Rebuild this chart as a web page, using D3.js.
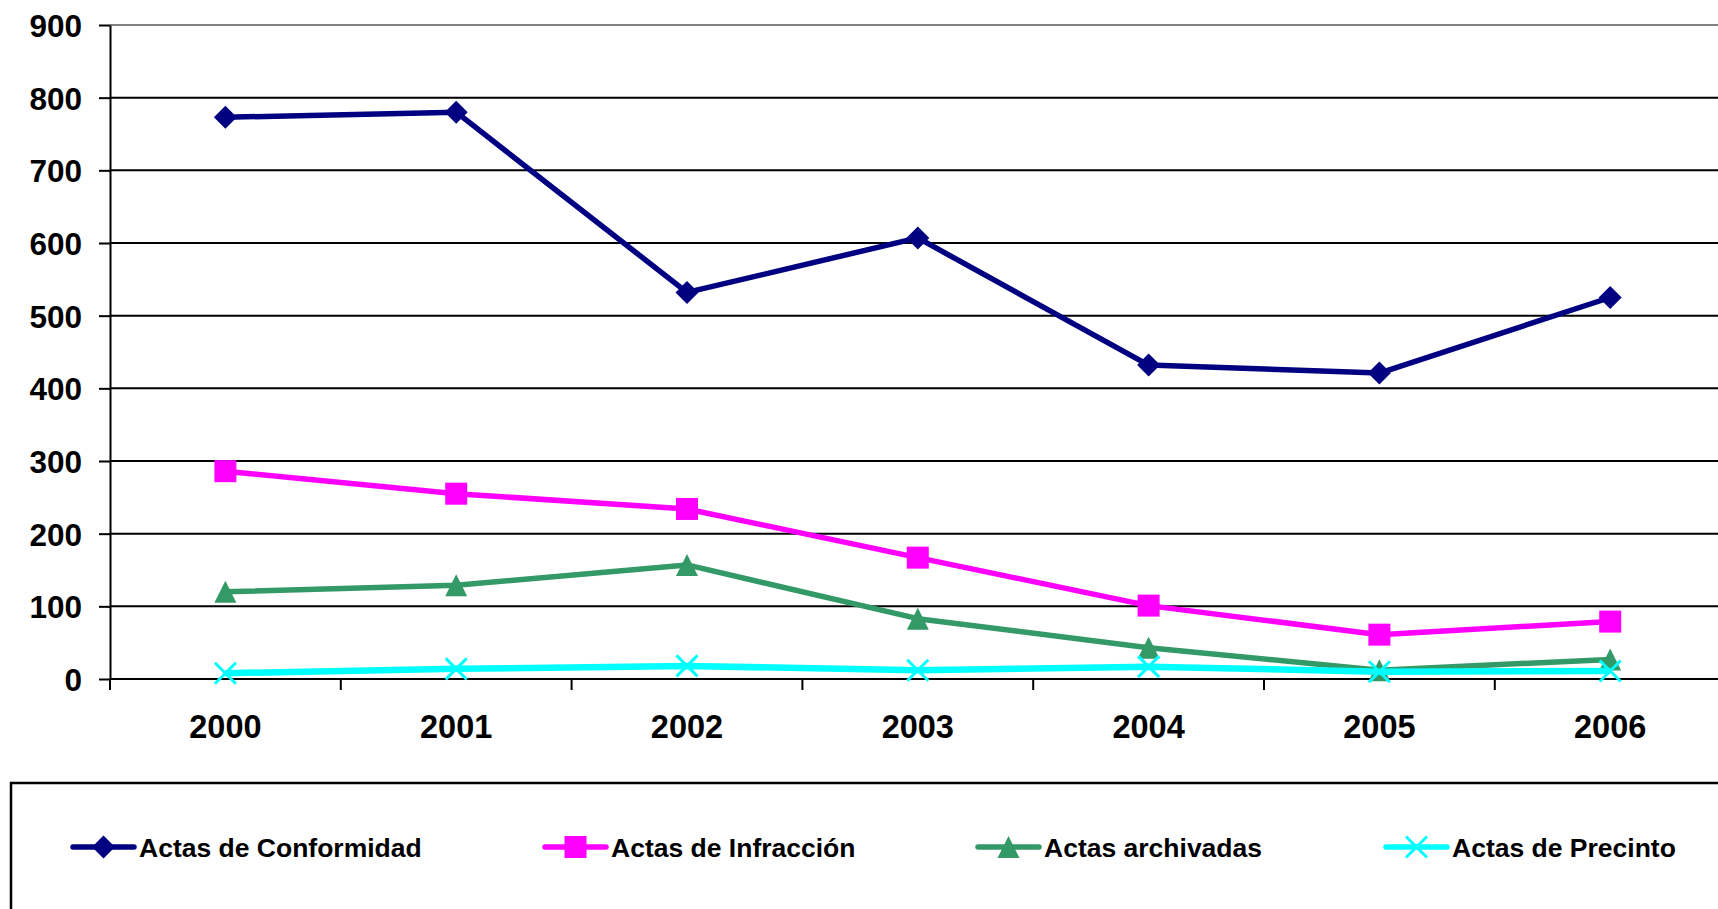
<!DOCTYPE html>
<html>
<head>
<meta charset="utf-8">
<script src="https://cdn.jsdelivr.net/npm/d3@7"></script>
<style>
html,body{margin:0;padding:0;background:#fff;overflow:hidden;}
svg{display:block;font-family:"Liberation Sans",Arial,sans-serif;font-weight:bold;}
</style>
</head>
<body>
<svg id="chart" width="1718" height="909"></svg>
<script>
// ---- data ----
const years = ["2000","2001","2002","2003","2004","2005","2006"];
const conformidad = [773, 780, 532, 607, 432, 421, 525];
const infraccion  = [286, 255, 234, 167, 101, 61, 79];
const archivadas  = [120, 129, 157, 83, 43, 12, 27];
const precinto    = [8, 14, 18, 12, 17, 10, 11];
const seriesNames = ["Actas de Conformidad","Actas de Infracción","Actas archivadas","Actas de Precinto"];
const yTicks = [0,100,200,300,400,500,600,700,800,900];

// ---- styles ----
const colors = ["#000080","#FF00FF","#339966","#00FFFF"];
const markers = ["diamond","square","triangle","x"];
const series = [conformidad, infraccion, archivadas, precinto];

const svg = d3.select("#chart");
svg.append("rect").attr("width",1718).attr("height",909).attr("fill","#fff");

const plotLeft = 110, plotTop = 25, plotBottom = 679, band = 230.8;
const x = d3.scaleBand().domain(years).range([plotLeft, plotLeft + band*years.length]).padding(0);
const y = d3.scaleLinear().domain([0,900]).range([plotBottom, plotTop]);

// gridlines
svg.append("g").selectAll("line").data(yTicks.filter(d=>d>0)).join("line")
  .attr("x1", plotLeft).attr("x2", plotLeft + band*years.length)
  .attr("y1", d=>y(d)).attr("y2", d=>y(d))
  .attr("stroke", d=> d===900 ? "#808080" : "#000").attr("stroke-width", 2);

// y axis
const yAxis = svg.append("g").attr("transform",`translate(${plotLeft},0)`)
  .call(d3.axisLeft(y).tickValues(yTicks).tickSize(11).tickSizeOuter(0).tickPadding(17));
yAxis.select(".domain").attr("stroke","#000").attr("stroke-width",2);
yAxis.selectAll(".tick line").attr("stroke","#000").attr("stroke-width",2);
yAxis.selectAll(".tick text").attr("font-size",31.5).attr("font-weight","bold")
  .attr("font-family","'Liberation Sans',Arial,sans-serif").attr("fill","#000").attr("dy","0.36em");

// x axis
const xAxis = svg.append("g").attr("transform",`translate(0,${plotBottom})`);
xAxis.append("line").attr("x1",plotLeft).attr("x2",plotLeft+band*years.length)
  .attr("y1",0).attr("y2",0).attr("stroke","#000").attr("stroke-width",2);
xAxis.selectAll("line.t").data(years).join("line").attr("class","t")
  .attr("x1",d=>x(d)).attr("x2",d=>x(d)).attr("y1",0).attr("y2",11)
  .attr("stroke","#000").attr("stroke-width",2);
xAxis.selectAll("text").data(years).join("text")
  .attr("x",d=>x(d)+x.bandwidth()/2).attr("y",59)
  .attr("text-anchor","middle").attr("font-size",32.5).attr("fill","#000").text(d=>d);

// custom symbols
const symTypes = {
  diamond: {draw(ctx,s){ctx.moveTo(0,-s);ctx.lineTo(s,0);ctx.lineTo(0,s);ctx.lineTo(-s,0);ctx.closePath();}},
  square: {draw(ctx,s){ctx.rect(-s,-s,2*s,2*s);}},
  triangle: {draw(ctx,s){ctx.moveTo(0,-s);ctx.lineTo(s,s);ctx.lineTo(-s,s);ctx.closePath();}},
  x: {draw(ctx,s){ctx.moveTo(-s,-s);ctx.lineTo(s,s);ctx.moveTo(s,-s);ctx.lineTo(-s,s);}}
};
const markerSize = {diamond:11.5, square:11, triangle:11, x:10.5};
function drawMarker(g, type, color){
  const p = d3.symbol().type(symTypes[type]).size(markerSize[type])();
  if(type==="x"){
    g.append("path").attr("d",p).attr("fill","none").attr("stroke",color).attr("stroke-width",3);
  } else {
    g.append("path").attr("d",p).attr("fill",color).attr("stroke","none");
  }
}

const line = d3.line().x((d,i)=>x(years[i])+x.bandwidth()/2).y(d=>y(d));

series.forEach((vals, si)=>{
  const g = svg.append("g");
  g.append("path").datum(vals).attr("d",line).attr("fill","none")
    .attr("stroke",colors[si]).attr("stroke-width", si===3 ? 6.5 : 5.5).attr("stroke-linejoin","round");
  vals.forEach((v,i)=>{
    const mg = g.append("g").attr("transform",`translate(${x(years[i])+x.bandwidth()/2},${y(v)})`);
    drawMarker(mg, markers[si], colors[si]);
  });
});

// legend
svg.append("rect").attr("x",11).attr("y",783).attr("width",1800).attr("height",200)
  .attr("fill","none").attr("stroke","#000").attr("stroke-width",2.5);
const legendX = [73, 545, 978, 1386];
const legendY = 847;
seriesNames.forEach((name, si)=>{
  const g = svg.append("g").attr("transform",`translate(${legendX[si]},${legendY})`);
  g.append("line").attr("x1",0).attr("x2",61).attr("y1",0).attr("y2",0)
    .attr("stroke",colors[si]).attr("stroke-width",5.5).attr("stroke-linecap","round");
  const mg = g.append("g").attr("transform","translate(30.5,0)");
  drawMarker(mg, markers[si], colors[si]);
  g.append("text").attr("x",66).attr("y",0).attr("dy","0.36em")
    .attr("font-size",26.5).attr("fill","#000").text(name);
});
</script>
</body>
</html>
